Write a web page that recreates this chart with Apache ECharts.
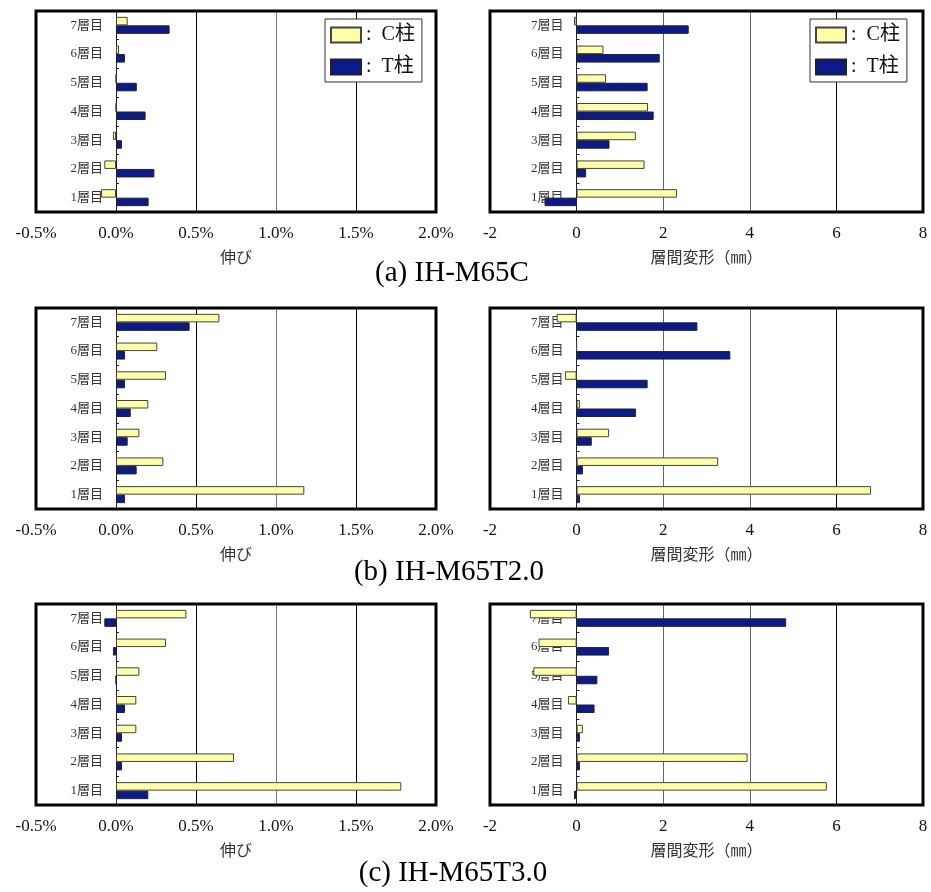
<!DOCTYPE html>
<html>
<head>
<meta charset="utf-8">
<script src="https://cdn.jsdelivr.net/npm/echarts@6/dist/echarts.min.js"></script>
<style>
  html, body { margin: 0; padding: 0; background: #fff; }
  #chart { width: 931px; height: 892px; }
</style>
</head>
<body>
<div id="chart"></div>
<script>
// Storeys, bottom to top
const floors = ['1層目', '2層目', '3層目', '4層目', '5層目', '6層目', '7層目'];

// Elongation (%) per storey, C column / T column
const elongA_C = [-0.094, -0.073, -0.019, 0, 0, 0.019, 0.073];
const elongA_T = [0.204, 0.24, 0.0375, 0.185, 0.13, 0.056, 0.335];
const elongB_C = [1.177, 0.296, 0.146, 0.202, 0.3125, 0.258, 0.646];
const elongB_T = [0.056, 0.129, 0.073, 0.092, 0.056, 0.056, 0.46];
const elongC_C = [1.783, 0.7375, 0.127, 0.127, 0.146, 0.3125, 0.44];
const elongC_T = [0.202, 0.0375, 0.0375, 0.056, 0, -0.019, -0.073];

// Inter-storey deformation (mm) per storey, C column / T column
const driftA_C = [2.32, 1.57, 1.37, 1.65, 0.68, 0.62, -0.06];
const driftA_T = [-0.74, 0.22, 0.76, 1.78, 1.64, 1.92, 2.59];
const driftB_C = [6.8, 3.27, 0.75, 0.077, -0.27, 0, -0.46];
const driftB_T = [0.077, 0.146, 0.35, 1.37, 1.64, 3.55, 2.79];
const driftC_C = [5.78, 3.95, 0.146, -0.2, -1.0, -0.88, -1.08];
const driftC_T = [-0.06, 0.077, 0.077, 0.415, 0.48, 0.75, 4.84];

// Specimen captions
const captions = ['(a) IH-M65C', '(b) IH-M65T2.0', '(c) IH-M65T3.0'];
const seriesNames = ['C柱', 'T柱'];
const elongName = '伸び';
const driftName = '層間変形（㎜）';

// Value-axis ranges
const elongRange = { min: -0.5, max: 2.0, interval: 0.5 };
const driftRange = { min: -2, max: 8, interval: 2 };

const panels = [
  { kind: 'elong', C: elongA_C, T: elongA_T },
  { kind: 'drift', C: driftA_C, T: driftA_T },
  { kind: 'elong', C: elongB_C, T: elongB_T },
  { kind: 'drift', C: driftB_C, T: driftB_T },
  { kind: 'elong', C: elongC_C, T: elongC_T },
  { kind: 'drift', C: driftC_C, T: driftC_T }
];

const rowTops = [11, 308, 604];
const rowHeight = 201;
const colBoxes = [{ left: 36, width: 400 }, { left: 490, width: 433 }];
const captionY = [273, 572, 873];
const captionX = [452, 449, 453];

const serif = '"Liberation Serif", "Noto Sans CJK JP", serif';
const colorC = '#ffffa6';
const colorT = '#0b1a8f';

const grid = [], xAxis = [], yAxis = [], series = [];

panels.forEach((p, i) => {
  const row = Math.floor(i / 2), col = i % 2;
  const box = colBoxes[col];
  const isElong = p.kind === 'elong';
  const rng = isElong ? elongRange : driftRange;
  grid.push({
    left: box.left, top: rowTops[row],
    width: box.width, height: rowHeight,
    show: true, borderColor: '#000', borderWidth: 3,
    backgroundColor: 'transparent', containLabel: false,
    outerBoundsMode: 'none', z: 5
  });
  xAxis.push({
    type: 'value', gridIndex: i,
    min: rng.min, max: rng.max, interval: rng.interval,
    axisLine: { show: false }, axisTick: { show: false },
    splitLine: { show: true, lineStyle: { color: isElong ? ['#000', '#000', '#000', '#777', '#000', '#000'] : ['#000', '#000', '#666', '#666', '#000', '#000'], width: 1 } },
    axisLabel: {
      margin: 13, fontFamily: serif, fontSize: 17, color: '#111',
      formatter: v => isElong ? v.toFixed(1) + '%' : String(v)
    },
    name: isElong ? elongName : driftName,
    nameLocation: 'middle', nameGap: 39,
    nameTextStyle: { fontFamily: serif, fontSize: 16, color: '#333' }
  });
  // storey axis sits on the zero line of the value axis
  const zeroOffset = -box.width * (0 - rng.min) / (rng.max - rng.min);
  yAxis.push({
    type: 'category', gridIndex: i, data: floors, position: 'left',
    offset: zeroOffset,
    axisLine: { show: true, onZero: false, lineStyle: { color: '#222', width: 1 } },
    axisTick: { show: true, inside: true, length: 3, lineStyle: { color: '#222' } },
    axisLabel: { margin: 13, fontFamily: serif, fontSize: 13, color: '#333' },
    splitLine: { show: false }
  });
  series.push({
    type: 'bar', name: seriesNames[0], xAxisIndex: i, yAxisIndex: i,
    data: p.C, barWidth: 8.5, barGap: '0%',
    itemStyle: { color: colorC, borderColor: '#444', borderWidth: 1 },
    z: 3
  });
  series.push({
    type: 'bar', name: seriesNames[1], xAxisIndex: i, yAxisIndex: i,
    data: p.T, barWidth: 8.5, barGap: '0%',
    itemStyle: { color: colorT, borderColor: '#222', borderWidth: 1 },
    z: 3
  });
});

const legendBase = {
  orient: 'vertical', top: 19, data: seriesNames,
  backgroundColor: '#fff', borderColor: '#333', borderWidth: 1,
  padding: [6, 7, 5, 5], itemWidth: 30, itemHeight: 15, itemGap: 12,
  icon: 'rect', selectedMode: false, z: 10,
  formatter: name => ':  ' + name,
  textStyle: { fontFamily: serif, fontSize: 20, color: '#111' }
};

const chart = echarts.init(document.getElementById('chart'), null, { renderer: 'canvas' });
chart.setOption({
  animation: false,
  backgroundColor: '#fff',
  grid, xAxis, yAxis, series,
  legend: [
    Object.assign({}, legendBase, { left: 325 }),
    Object.assign({}, legendBase, { left: 810 })
  ],
  graphic: captions.map((t, k) => ({
    type: 'text', x: captionX[k], y: captionY[k],
    style: { text: t, fontFamily: serif, fontSize: 29, fill: '#000', textAlign: 'center', textVerticalAlign: 'middle' }
  }))
});
</script>
</body>
</html>
